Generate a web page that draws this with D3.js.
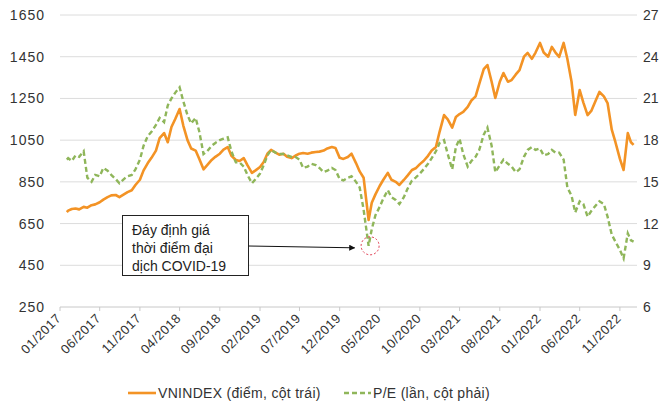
<!DOCTYPE html>
<html>
<head>
<meta charset="utf-8">
<script src="https://cdn.jsdelivr.net/npm/d3@7"></script>
<style>
  body { margin: 0; background: #fff; }
  text { font-family: "Liberation Sans", Arial, sans-serif; fill: #333; }
</style>
</head>
<body>
<svg id="root" width="671" height="408"></svg>
<script>
//Chart data (~2 points per month)
const dates = [
  "2017-01-27","2017-02-01","2017-02-15","2017-03-01","2017-03-15","2017-04-01","2017-04-15","2017-05-01","2017-05-15","2017-06-01","2017-06-15","2017-07-01","2017-07-15","2017-08-01","2017-08-15","2017-09-01","2017-09-15","2017-10-01","2017-10-15","2017-11-01","2017-11-15","2017-12-01","2017-12-15",
  "2018-01-01","2018-01-15","2018-02-01","2018-02-15","2018-03-01","2018-03-15","2018-04-01","2018-04-15","2018-05-01","2018-05-15","2018-06-01","2018-06-15","2018-07-01","2018-07-15","2018-08-01","2018-08-15","2018-09-01","2018-09-15","2018-10-01","2018-10-15","2018-11-01","2018-11-15","2018-12-01","2018-12-15",
  "2019-01-01","2019-01-15","2019-02-01","2019-02-15","2019-03-01","2019-03-15","2019-04-01","2019-04-15","2019-05-01","2019-05-15","2019-06-01","2019-06-15","2019-07-01","2019-07-15","2019-08-01","2019-08-15","2019-09-01","2019-09-15","2019-10-01","2019-10-15","2019-11-01","2019-11-15","2019-12-01","2019-12-15",
  "2020-01-01","2020-01-15","2020-02-01","2020-02-15","2020-03-01","2020-03-20","2020-04-01","2020-04-15","2020-05-01","2020-05-15","2020-06-01","2020-06-15","2020-07-01","2020-07-15","2020-08-01","2020-08-15","2020-09-01","2020-09-15","2020-10-01","2020-10-15","2020-11-01","2020-11-15","2020-12-01","2020-12-15",
  "2021-01-01","2021-01-15","2021-02-01","2021-02-15","2021-03-01","2021-03-15","2021-04-01","2021-04-15","2021-05-01","2021-05-15","2021-06-01","2021-06-15","2021-07-01","2021-07-15","2021-08-01","2021-08-15","2021-09-01","2021-09-15","2021-10-01","2021-10-15","2021-11-01","2021-11-15","2021-12-01","2021-12-15",
  "2022-01-01","2022-01-15","2022-02-01","2022-02-15","2022-03-01","2022-03-15","2022-04-01","2022-04-15","2022-05-01","2022-05-15","2022-06-01","2022-06-15","2022-07-01","2022-07-15","2022-08-01","2022-08-15","2022-09-01","2022-09-15","2022-10-01","2022-10-15","2022-11-01","2022-11-15","2022-12-01","2022-12-13","2022-12-23"
];

const vnindex = [
  705,712,720,722,718,730,726,738,742,752,765,777,785,787,777,790,801,810,835,860,905,940,965,
  1000,1060,1084,1040,1113,1150,1199,1120,1050,1010,1000,960,910,930,955,970,985,1005,1017,975,955,950,964,930,
  893,905,921,945,985,1003,990,980,985,970,964,975,985,988,985,990,993,995,1000,1010,1017,1012,965,960,
  969,985,940,900,870,667,750,790,830,860,893,860,850,835,859,880,907,915,935,950,975,1000,1017,1090,
  1170,1150,1110,1161,1175,1185,1209,1240,1260,1320,1390,1410,1330,1252,1330,1372,1330,1338,1365,1386,1450,1468,1440,1470,
  1516,1470,1450,1497,1470,1449,1516,1440,1330,1171,1290,1230,1170,1190,1240,1281,1260,1228,1100,1040,960,907,1084,1040,1027
];

const peRatio = [
  16.6,16.7,16.5,16.9,16.8,17.2,15.3,15.0,15.5,15.4,16.0,15.8,15.5,15.2,14.9,15.2,15.4,15.5,15.9,16.6,17.6,18.3,18.6,
  19.1,19.6,19.3,20.5,21.0,21.4,21.8,20.8,19.8,19.2,19.6,18.6,17.0,17.2,17.6,17.8,18.0,18.1,18.2,17.2,16.4,16.4,16.1,15.5,
  14.9,15.2,15.6,16.2,16.9,17.3,17.1,17.0,17.0,16.9,16.8,16.8,16.6,16.0,16.1,16.3,16.2,16.0,15.7,15.8,16.0,15.85,15.2,15.1,
  15.3,15.4,15.0,14.6,13.0,10.4,11.6,12.6,13.2,13.8,14.4,13.9,13.7,13.4,13.9,14.5,15.1,15.3,15.6,15.9,16.3,16.7,17.2,17.8,
  18.0,17.0,15.9,17.5,18.1,17.0,16.1,16.5,16.8,17.3,18.4,18.9,17.6,15.7,16.2,16.6,16.3,16.1,15.7,15.9,16.8,17.3,17.5,17.3,
  17.4,16.9,17.0,17.3,17.1,17.1,16.6,14.6,14.0,12.8,13.6,13.4,12.5,12.9,13.3,13.6,13.4,12.5,11.2,10.7,10.1,9.5,11.3,10.8,10.7
];

const tickLabels = ["01/2017","06/2017","11/2017","04/2018","09/2018","02/2019","07/2019","12/2019",
                    "05/2020","10/2020","03/2021","08/2021","01/2022","06/2022","11/2022"];
const leftTicks = [250, 450, 650, 850, 1050, 1250, 1450, 1650];
const rightTicks = [6, 9, 12, 15, 18, 21, 24, 27];

const seriesNames = ["VNINDEX (điểm, cột trái)", "P/E (lần, cột phải)"];
const noteLines = ["Đáy định giá", "thời điểm đại", "dịch COVID-19"];
const noteDate = "2020-03-20"; //COVID valuation bottom
const notePE = 10.4;

//Layout
const svg = d3.select("#root");
const plotLeft = 60, plotRight = 637, plotTop = 15, plotBottom = 307;
const parseDate = d3.timeParse("%Y-%m-%d");
const parseTick = d3.timeParse("%m/%Y");

const xScale = d3.scaleTime()
    .domain([new Date(2017, 0, 1), new Date(2023, 0, 5)])
    .range([plotLeft, plotRight]);
const yLeft = d3.scaleLinear().domain([250, 1650]).range([plotBottom, plotTop]);
const yRight = d3.scaleLinear().domain([6, 27]).range([plotBottom, plotTop]);

const rows = dates.map((d, i) => ({ date: parseDate(d), vn: vnindex[i], pe: peRatio[i] }));

//Gridlines
svg.append("g")
    .selectAll("line")
    .data(leftTicks)
    .enter()
    .append("line")
    .attr("x1", plotLeft)
    .attr("x2", plotRight)
    .attr("y1", d => yLeft(d))
    .attr("y2", d => yLeft(d))
    .attr("stroke", d => d === 250 ? "#c8c8c8" : "#dcdcdc")
    .attr("stroke-width", 1);

//Left axis labels
svg.append("g")
    .selectAll("text")
    .data(leftTicks)
    .enter()
    .append("text")
    .attr("x", 45)
    .attr("y", d => yLeft(d) + 5)
    .attr("text-anchor", "end")
    .style("font-size", "14px")
    .style("letter-spacing", "1px")
    .text(d => d);

//Right axis labels
svg.append("g")
    .selectAll("text")
    .data(rightTicks)
    .enter()
    .append("text")
    .attr("x", 643)
    .attr("y", d => yRight(d) + 5)
    .style("font-size", "14px")
    .text(d => d);

//X axis ticks and rotated labels
const xTicks = tickLabels.map(t => parseTick(t));
svg.append("g")
    .selectAll("line")
    .data(xTicks)
    .enter()
    .append("line")
    .attr("x1", d => xScale(d))
    .attr("x2", d => xScale(d))
    .attr("y1", plotBottom)
    .attr("y2", plotBottom + 4)
    .attr("stroke", "#c8c8c8");

svg.append("g")
    .selectAll("text")
    .data(tickLabels)
    .enter()
    .append("text")
    .attr("transform", d => `translate(${xScale(parseTick(d)) + 2}, ${plotBottom + 12}) rotate(-45)`)
    .attr("text-anchor", "end")
    .style("font-size", "13px")
    .style("letter-spacing", "0.5px")
    .text(d => d);

//Lines
const vnLine = d3.line().x(d => xScale(d.date)).y(d => yLeft(d.vn));
const peLine = d3.line().x(d => xScale(d.date)).y(d => yRight(d.pe));

svg.append("path")
    .datum(rows)
    .attr("d", vnLine)
    .attr("fill", "none")
    .attr("stroke", "#f39325")
    .attr("stroke-width", 2.6)
    .attr("stroke-linejoin", "round");

svg.append("path")
    .datum(rows)
    .attr("d", peLine)
    .attr("fill", "none")
    .attr("stroke", "#8fb65a")
    .attr("stroke-width", 2.4)
    .attr("stroke-dasharray", "5,3");

//Annotation box
const note = svg.append("g");
note.append("rect")
    .attr("x", 122.5)
    .attr("y", 215.5)
    .attr("width", 126)
    .attr("height", 60)
    .attr("fill", "#fff")
    .attr("stroke", "#222")
    .attr("stroke-width", 1);
note.selectAll("text")
    .data(noteLines)
    .enter()
    .append("text")
    .attr("x", 132)
    .attr("y", (d, i) => 235 + i * 18)
    .style("font-size", "14px")
    .style("fill", "#222")
    .text(d => d);

const lowX = xScale(parseDate(noteDate));
const lowY = yRight(notePE);
svg.append("defs").append("marker")
    .attr("id", "arrow")
    .attr("viewBox", "0 0 10 10")
    .attr("refX", 9).attr("refY", 5)
    .attr("markerWidth", 6).attr("markerHeight", 6)
    .attr("orient", "auto")
    .append("path")
    .attr("d", "M0,0L10,5L0,10z")
    .attr("fill", "#111");
note.append("line")
    .attr("x1", 248.5)
    .attr("y1", 246)
    .attr("x2", lowX - 14)
    .attr("y2", lowY + 2)
    .attr("stroke", "#111")
    .attr("stroke-width", 1)
    .attr("marker-end", "url(#arrow)");
note.append("circle")
    .attr("cx", lowX + 1.5)
    .attr("cy", lowY)
    .attr("r", 9)
    .attr("fill", "none")
    .attr("stroke", "#e03a4e")
    .attr("stroke-width", 1)
    .attr("stroke-dasharray", "2,2");

//Legend
const legend = svg.append("g").attr("transform", "translate(0, 393)");
legend.append("line")
    .attr("x1", 128).attr("x2", 156).attr("y1", 0).attr("y2", 0)
    .attr("stroke", "#f39325").attr("stroke-width", 2.6);
legend.append("text")
    .attr("x", 158).attr("y", 5)
    .style("font-size", "14px")
    .style("letter-spacing", "0.3px")
    .text(seriesNames[0]);
legend.append("line")
    .attr("x1", 344).attr("x2", 371).attr("y1", 0).attr("y2", 0)
    .attr("stroke", "#8fb65a").attr("stroke-width", 2.4)
    .attr("stroke-dasharray", "5,3");
legend.append("text")
    .attr("x", 373).attr("y", 5)
    .style("font-size", "14px")
    .style("letter-spacing", "0.3px")
    .text(seriesNames[1]);
</script>
</body>
</html>
